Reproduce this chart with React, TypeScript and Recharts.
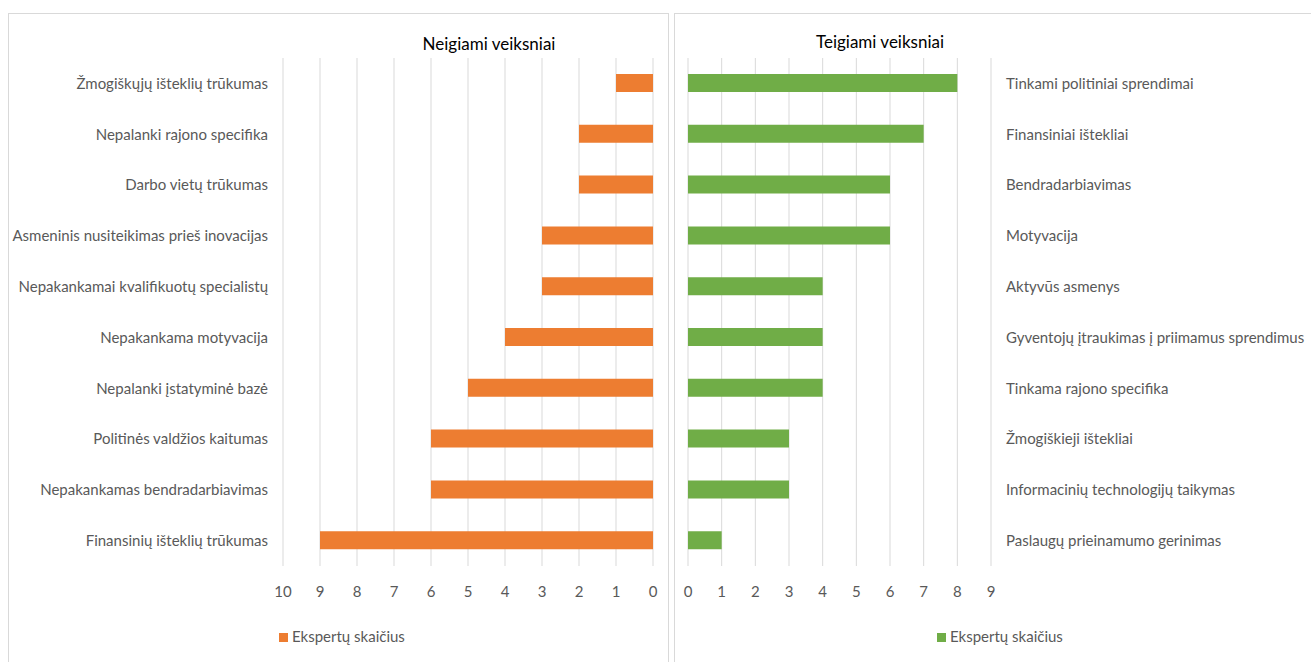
import React from "react";
import { BarChart, Bar, XAxis, YAxis, CartesianGrid, Legend } from "recharts";

const negCategories = [
  "Žmogiškųjų išteklių trūkumas",
  "Nepalanki rajono specifika",
  "Darbo vietų trūkumas",
  "Asmeninis nusiteikimas prieš inovacijas",
  "Nepakankamai kvalifikuotų specialistų",
  "Nepakankama motyvacija",
  "Nepalanki įstatyminė bazė",
  "Politinės valdžios kaitumas",
  "Nepakankamas bendradarbiavimas",
  "Finansinių išteklių trūkumas",
];
const negValues = [1, 2, 2, 3, 3, 4, 5, 6, 6, 9];

const posCategories = [
  "Tinkami politiniai sprendimai",
  "Finansiniai ištekliai",
  "Bendradarbiavimas",
  "Motyvacija",
  "Aktyvūs asmenys",
  "Gyventojų įtraukimas į priimamus sprendimus",
  "Tinkama rajono specifika",
  "Žmogiškieji ištekliai",
  "Informacinių technologijų taikymas",
  "Paslaugų prieinamumo gerinimas",
];
const posValues = [8, 7, 6, 6, 4, 4, 4, 3, 3, 1];

const negTicks = [0, 1, 2, 3, 4, 5, 6, 7, 8, 9, 10];
const posTicks = [0, 1, 2, 3, 4, 5, 6, 7, 8, 9];

const seriesName = "Ekspertų skaičius";
const negTitle = "Neigiami veiksniai";
const posTitle = "Teigiami veiksniai";

const negData = negCategories.map((name, i) => ({ name, value: negValues[i] }));
const posData = posCategories.map((name, i) => ({ name, value: posValues[i] }));

const FONT = "Lato, 'Open Sans', sans-serif";
const TEXT = "#595959";
const GRID = "#d9d9d9";
const tickStyle = { fill: TEXT, fontSize: 15, fontFamily: FONT };

const legendFormatter = (v: string) => (
  <span style={{ color: TEXT, fontSize: 15, fontFamily: FONT }}>{v}</span>
);

export default function App() {
  return (
    <div style={{ position: "absolute", left: 0, top: 0, width: 1311, height: 662, background: "#fff", overflow: "hidden", fontFamily: FONT }}>
      {/* panel borders */}
      <div style={{ position: "absolute", left: 8, top: 13, width: 661, height: 700, border: "1px solid #d9d9d9", boxSizing: "border-box" }} />
      <div style={{ position: "absolute", left: 674, top: 13, width: 700, height: 700, border: "1px solid #d9d9d9", boxSizing: "border-box" }} />

      <div style={{ position: "absolute", left: 389, top: 33, width: 200, textAlign: "center", fontSize: 17, color: "#000" }}>{negTitle}</div>
      <div style={{ position: "absolute", left: 780, top: 31, width: 200, textAlign: "center", fontSize: 17, color: "#000" }}>{posTitle}</div>

      <div style={{ position: "absolute", left: 8, top: 0 }}>
        <BarChart width={660} height={662} data={negData} layout="vertical" margin={{ top: 58, right: 15, bottom: 37, left: 0 }}>
          <CartesianGrid horizontal={false} stroke={GRID} />
          <XAxis type="number" domain={[0, 10]} ticks={negTicks} reversed axisLine={false} tickLine={false} tickSize={0} tickMargin={20} height={40} tick={tickStyle} interval={0} />
          <YAxis type="category" dataKey="name" width={275} axisLine={false} tickLine={false} tickSize={0} tickMargin={15} tick={tickStyle} interval={0} />
          <Bar dataKey="value" name={seriesName} fill="#ED7D31" barSize={18} isAnimationActive={false} />
          <Legend verticalAlign="bottom" align="left" iconType="square" iconSize={9} formatter={legendFormatter} wrapperStyle={{ left: 271, bottom: 17, width: "auto" }} />
        </BarChart>
      </div>

      <div style={{ position: "absolute", left: 674, top: 0 }}>
        <BarChart width={637} height={662} data={posData} layout="vertical" margin={{ top: 58, right: 0, bottom: 37, left: 14 }}>
          <CartesianGrid horizontal={false} stroke={GRID} />
          <XAxis type="number" domain={[0, 9]} ticks={posTicks} axisLine={false} tickLine={false} tickSize={0} tickMargin={20} height={40} tick={tickStyle} interval={0} />
          <YAxis type="category" dataKey="name" orientation="right" width={320} axisLine={false} tickLine={false} tickSize={0} tickMargin={15} tick={tickStyle} interval={0} />
          <Bar dataKey="value" name={seriesName} fill="#70AD47" barSize={18} isAnimationActive={false} />
          <Legend verticalAlign="bottom" align="left" iconType="square" iconSize={9} formatter={legendFormatter} wrapperStyle={{ left: 263, bottom: 17, width: "auto" }} />
        </BarChart>
      </div>
    </div>
  );
}
